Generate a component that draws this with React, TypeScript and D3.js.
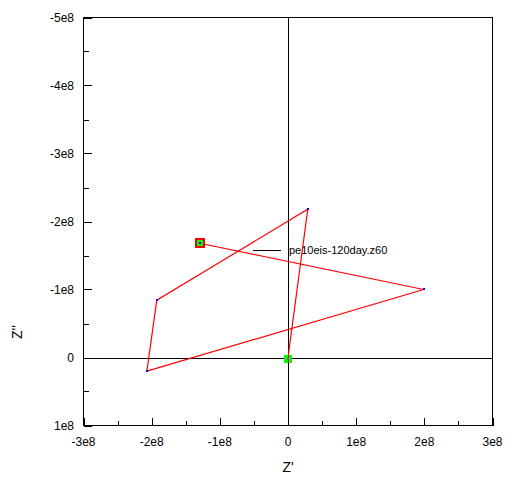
import React from "react";
import * as d3 from "d3";

// Z' (real) and Z'' (imaginary) values, in order of the trace
const zReal = [0, 0.29e8, -1.925e8, -2.07e8, 1.99e8, -1.295e8];
const zImag = [0, -2.18e8, -0.843e8, 0.2e8, -1.0e8, -1.68e8];
const seriesName = "pe10eis-120day.z60";

const xTicks = [-3e8, -2e8, -1e8, 0, 1e8, 2e8, 3e8];
const xTickLabels = ["-3e8", "-2e8", "-1e8", "0", "1e8", "2e8", "3e8"];
const yTicks = [-5e8, -4e8, -3e8, -2e8, -1e8, 0, 1e8];
const yTickLabels = ["-5e8", "-4e8", "-3e8", "-2e8", "-1e8", "0", "1e8"];

const width = 525;
const height = 489;
const left = 83.5;
const right = 492.5;
const top = 17.5;
const bottom = 425.5;
const font = "'Liberation Sans', Arial, sans-serif";

const px = (v: number) => Math.round(v) + 0.5;

export default function App() {
  const x = d3.scaleLinear().domain([-3e8, 3e8]).range([left, right]);
  const y = d3.scaleLinear().domain([-5e8, 1e8]).range([top, bottom]);

  const pts = zReal.map((r, i) => [r, zImag[i]] as [number, number]);
  const line = d3.line<[number, number]>()
    .x(d => x(d[0]))
    .y(d => y(d[1]));

  const minorX = d3.range(-3e8, 3e8 + 1, 0.5e8);
  const minorY = d3.range(-5e8, 1e8 + 1, 0.5e8);
  const first = pts[0];
  const last = pts[pts.length - 1];

  return (
    <svg width={width} height={height}
      style={{ position: "absolute", left: 0, top: 0, background: "#fff" }}>
      <g shapeRendering="crispEdges">
        {/* crosshair at origin */}
        <line x1={px(x(0))} x2={px(x(0))} y1={top} y2={bottom} stroke="#000" />
        <line x1={left} x2={right} y1={px(y(0))} y2={px(y(0))} stroke="#000" />

        {/* frame */}
        <rect x={left} y={top} width={right - left} height={bottom - top}
          fill="none" stroke="#000" />

        {/* minor ticks */}
        {minorX.map(v => (
          <line key={"mx" + v} x1={px(x(v))} x2={px(x(v))}
            y1={bottom} y2={bottom - 5} stroke="#000" />
        ))}
        {minorY.map(v => (
          <line key={"my" + v} x1={left} x2={left + 5}
            y1={px(y(v))} y2={px(y(v))} stroke="#000" />
        ))}
        {/* major ticks */}
        {xTicks.map(v => (
          <line key={"xt" + v} x1={px(x(v))} x2={px(x(v))}
            y1={bottom} y2={bottom - 8} stroke="#000" />
        ))}
        {yTicks.map(v => (
          <line key={"yt" + v} x1={left} x2={left + 8}
            y1={px(y(v))} y2={px(y(v))} stroke="#000" />
        ))}
      </g>

      {xTicks.map((v, i) => (
        <text key={"xl" + v} x={x(v)} y={446} textAnchor="middle" fontSize={12}
          fontFamily={font} fill="#000">{xTickLabels[i]}</text>
      ))}
      {yTicks.map((v, i) => (
        <text key={"yl" + v} x={74} y={y(v) + 4} textAnchor="end" fontSize={12}
          fontFamily={font} fill="#000">{yTickLabels[i]}</text>
      ))}

      {/* axis titles */}
      <text x={288} y={472} textAnchor="middle" fontSize={14}
        fontFamily={font} fill="#000">Z'</text>
      <text transform="translate(22,332) rotate(-90)" textAnchor="middle"
        fontSize={14} fontFamily={font} fill="#000">Z''</text>

      {/* trace */}
      <path d={line(pts) ?? ""} fill="none" stroke="#ff0000" strokeWidth={1.2} />

      <g shapeRendering="crispEdges">
        {/* start marker */}
        <rect x={Math.round(x(first[0])) - 4} y={Math.round(y(first[1])) - 3} width={8} height={8}
          fill="#00ff00" />
        <line x1={px(x(first[0]))} x2={px(x(first[0]))}
          y1={Math.round(y(first[1])) - 3} y2={Math.round(y(first[1])) + 5} stroke="#ff0000" />
        <rect x={Math.round(x(first[0])) - 1} y={Math.round(y(first[1]))} width={2} height={2}
          fill="#ff00ff" />

        {/* vertex dots */}
        {pts.slice(1, -1).map((d, i) => (
          <rect key={"p" + i} x={Math.round(x(d[0])) - 1} y={Math.round(y(d[1])) - 1}
            width={2} height={2} fill="#0000ff" />
        ))}

        {/* end marker */}
        <rect x={Math.round(x(last[0])) - 4} y={Math.round(y(last[1])) - 4} width={8} height={8}
          fill="#00ff00" stroke="#ff0000" strokeWidth={2} />
        <rect x={Math.round(x(last[0])) - 1} y={Math.round(y(last[1])) - 1} width={2} height={2}
          fill="#0000ff" />

        {/* legend */}
        <line x1={253} x2={281} y1={250.5} y2={250.5} stroke="#000" />
      </g>
      <text x={289} y={254} fontSize={11} fontFamily={font} fill="#000">{seriesName}</text>
    </svg>
  );
}
